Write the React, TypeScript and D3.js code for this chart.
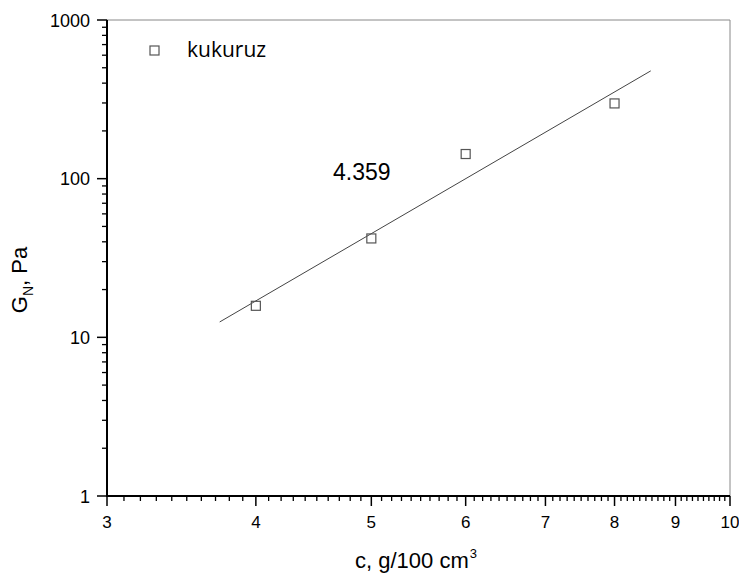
import * as React from 'react'
import { useEffect, useRef } from 'react'
import * as d3 from 'd3'

// measured points
const concentration = [4, 5, 6, 8]
const modulus = [15.8, 42, 143, 298]

// fitted power law, drawn between its two ends
const fitC = [3.73, 8.58]
const fitG = [12.5, 478]
const slopeLabel = '4.359'

const seriesName = 'kukuruz'
const xTicks = [3, 4, 5, 6, 7, 8, 9, 10]
const yTicks = [1, 10, 100, 1000]

const width = 739
const height = 574
const margin = { top: 20, right: 9, bottom: 78, left: 107 }

const App = () => {
  const chartRef = useRef<SVGSVGElement>(null)

  useEffect(() => {
    document.body.style.margin = '0'
    const svg = d3.select(chartRef.current)
    svg.selectAll('*').remove()

    const xScale = d3.scaleLog().domain([3, 10]).range([margin.left, width - margin.right])
    const yScale = d3.scaleLog().domain([1, 1000]).range([height - margin.bottom, margin.top])
    const font = 'Liberation Sans, Arial, sans-serif'
    const x0 = margin.left
    const x1 = width - margin.right
    const y0 = height - margin.bottom
    const y1 = margin.top

    // frame top/right
    svg.append('path')
      .attr('d', `M${x0},${y1}H${x1}V${y0}`)
      .attr('fill', 'none')
      .attr('stroke', '#888')
      .attr('stroke-width', 1)

    // minor ticks
    const xMinor = d3.range(31, 100).map(d => d / 10).filter(d => !xTicks.includes(d))
    svg.append('g')
      .selectAll('line')
      .data(xMinor)
      .enter()
      .append('line')
      .attr('x1', d => xScale(d))
      .attr('x2', d => xScale(d))
      .attr('y1', y0)
      .attr('y2', y0 + 5)
      .attr('stroke', '#000')
      .attr('stroke-width', 1.3)

    const yMinor: number[] = []
    yTicks.slice(0, -1).forEach(t => d3.range(2, 10).forEach(k => yMinor.push(t * k)))
    svg.append('g')
      .selectAll('line')
      .data(yMinor)
      .enter()
      .append('line')
      .attr('x1', x0)
      .attr('x2', x0 - 5)
      .attr('y1', d => yScale(d))
      .attr('y2', d => yScale(d))
      .attr('stroke', '#000')
      .attr('stroke-width', 1.3)

    // major ticks
    svg.append('g')
      .selectAll('line')
      .data(xTicks)
      .enter()
      .append('line')
      .attr('x1', d => xScale(d))
      .attr('x2', d => xScale(d))
      .attr('y1', y0)
      .attr('y2', y0 + 10)
      .attr('stroke', '#000')
      .attr('stroke-width', 1.5)

    svg.append('g')
      .selectAll('line')
      .data(yTicks)
      .enter()
      .append('line')
      .attr('x1', x0)
      .attr('x2', x0 - 10)
      .attr('y1', d => yScale(d))
      .attr('y2', d => yScale(d))
      .attr('stroke', '#000')
      .attr('stroke-width', 1.5)

    // axis lines
    svg.append('path')
      .attr('d', `M${x0},${y1}V${y0}H${x1}`)
      .attr('fill', 'none')
      .attr('stroke', '#000')
      .attr('stroke-width', 2)

    // tick labels
    svg.append('g')
      .selectAll('text')
      .data(xTicks)
      .enter()
      .append('text')
      .attr('x', d => xScale(d))
      .attr('y', y0 + 32)
      .attr('text-anchor', 'middle')
      .style('font-family', font)
      .style('font-size', '17px')
      .text(d => d)

    svg.append('g')
      .selectAll('text')
      .data(yTicks)
      .enter()
      .append('text')
      .attr('x', x0 - 17)
      .attr('y', d => yScale(d) + 6.5)
      .attr('text-anchor', 'end')
      .style('font-family', font)
      .style('font-size', '18px')
      .text(d => d)

    // axis titles
    const xt = svg.append('text')
      .attr('x', 355)
      .attr('y', 568)
      .style('font-family', font)
      .style('font-size', '22px')
    xt.append('tspan').text('c, g/100 cm')
    xt.append('tspan').attr('dx', 1).attr('dy', -10).style('font-size', '13px').text('3')

    const yt = svg.append('text')
      .attr('transform', 'translate(27, 280) rotate(-90)')
      .attr('text-anchor', 'middle')
      .style('font-family', font)
      .style('font-size', '22px')
    yt.append('tspan').text('G')
    yt.append('tspan').attr('dy', 6).style('font-size', '14px').text('N')
    yt.append('tspan').attr('dy', -6).text(', Pa')

    // fit line
    const line = d3.line<number>()
      .x((d, i) => xScale(fitC[i]))
      .y(d => yScale(d))
    svg.append('path')
      .attr('d', line(fitG))
      .attr('fill', 'none')
      .attr('stroke', '#444')
      .attr('stroke-width', 1)

    svg.append('text')
      .attr('x', 333)
      .attr('y', 180)
      .style('font-family', font)
      .style('font-size', '23px')
      .text(slopeLabel)

    // points
    svg.append('g')
      .selectAll('rect')
      .data(concentration)
      .enter()
      .append('rect')
      .attr('x', d => xScale(d) - 4.5)
      .attr('y', (d, i) => yScale(modulus[i]) - 4.5)
      .attr('width', 9)
      .attr('height', 9)
      .attr('fill', 'none')
      .attr('stroke', '#555')
      .attr('stroke-width', 1.2)

    // legend
    svg.append('rect')
      .attr('x', 150)
      .attr('y', 46)
      .attr('width', 9)
      .attr('height', 9)
      .attr('fill', 'none')
      .attr('stroke', '#555')
      .attr('stroke-width', 1.2)
    svg.append('text')
      .attr('x', 187)
      .attr('y', 57)
      .style('font-family', 'Open Sans, sans-serif')
      .style('font-size', '21px')
      .text(seriesName)
  }, [])

  return (
    <svg ref={chartRef} width={width} height={height} style={{ display: 'block' }}></svg>
  )
}

export default App
